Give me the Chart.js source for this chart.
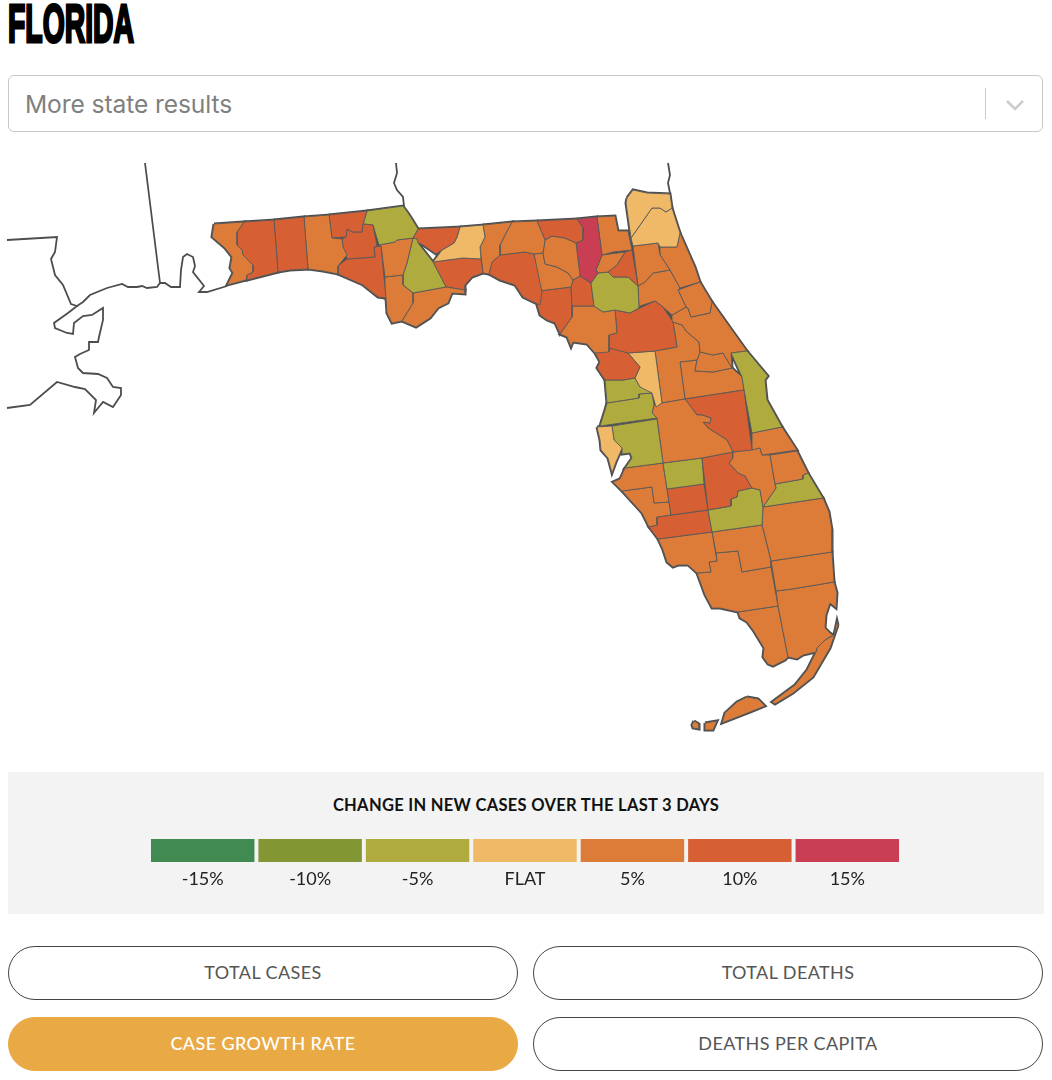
<!DOCTYPE html>
<html>
<head>
<meta charset="utf-8">
<title>Florida</title>
<script src="https://cdn.jsdelivr.net/npm/chart.js@4"></script>
<style>
html,body{margin:0;padding:0;background:#fff;}
body{position:relative;width:1052px;height:1080px;overflow:hidden;font-family:Lato,sans-serif;}
.abs{position:absolute;box-sizing:border-box;}
#title{left:8px;top:-6px;font-family:"Liberation Sans",sans-serif;font-weight:700;font-size:53px;line-height:60px;color:#000;-webkit-text-stroke:3px #000;transform-origin:left top;transform:scaleX(.535);white-space:nowrap;}
#picker{left:8px;top:75px;width:1035px;height:57px;border:1px solid #c8c8c8;border-radius:6px;}
#picker span{position:absolute;left:16px;top:13px;font:24.6px/30px Inter,"Noto Sans",sans-serif;color:#808080;letter-spacing:-.1px;}
#picker i{position:absolute;left:976px;top:12px;width:1px;height:31px;background:#ccc;}
#picker svg{position:absolute;left:996px;top:23px;}
#key{left:8px;top:772px;width:1036px;height:142px;background:#f3f3f3;}
#key b{position:absolute;left:0;right:0;top:24px;text-align:center;font:700 16.5px/18px Lato,sans-serif;letter-spacing:.3px;color:#111;}
#keyCanvas{left:149px;top:839px;}
#mapCanvas{left:0;top:150px;}
.btn{width:510px;height:54px;border:1px solid #444;border-radius:27px;text-align:center;font:18px/51px Lato,sans-serif;color:#555;letter-spacing:.4px;background:#fff;}
.btn.on{background:#e9a945;border-color:#e9a945;color:#fff;font-weight:500;}
</style>
</head>
<body>
<div class="abs" id="title">FLORIDA</div>
<div class="abs" id="picker"><span>More state results</span><i></i>
<svg width="20" height="12"><path d="M2 2 L10 10 L18 2" fill="none" stroke="#ccc" stroke-width="2.6"/></svg></div>
<canvas class="abs" id="mapCanvas" width="1052" height="620"></canvas>
<div class="abs" id="key"><b>CHANGE IN NEW CASES OVER THE LAST 3 DAYS</b></div>
<canvas class="abs" id="keyCanvas" width="752" height="46"></canvas>
<div class="abs btn" style="left:8px;top:946px">TOTAL CASES</div>
<div class="abs btn" style="left:533px;top:946px">TOTAL DEATHS</div>
<div class="abs btn on" style="left:8px;top:1017px">CASE GROWTH RATE</div>
<div class="abs btn" style="left:533px;top:1017px">DEATHS PER CAPITA</div>
<script>
// legend
const keyLabels=['-15%','-10%','-5%','FLAT','5%','10%','15%'];
const keyBands=[-15,-10,-5,0,5,10,15];
const keyColors=['#418a52','#829733','#b0ab3e','#f0b967','#dd7c38','#d65f33','#c93e53'];

// counties
const countyNames=['Escambia','Santa Rosa','Okaloosa','Walton','Holmes','Washington','Bay','Jackson','Calhoun','Gulf','Liberty','Franklin','Gadsden','Leon','Wakulla','Jefferson','Madison','Taylor','Hamilton','Suwannee','Lafayette','Columbia','Baker','Union','Bradford','Alachua','Gilchrist','Dixie','Levy','Marion','Citrus','Sumter','Hernando','Pasco','Pinellas','Hillsborough','Polk','Osceola','Brevard','Indian River','St. Lucie','Okeechobee','Martin','Highlands','Hardee','DeSoto','Glades','Manatee','Sarasota','Charlotte','Lee','Hendry','Collier','Palm Beach','Broward','Miami-Dade','Monroe','Upper Keys','Middle Keys','Lower Keys','Key West','Nassau','Duval','Clay','St. Johns','Putnam','Flagler','Volusia','Lake','Seminole','Orange'];
const countyBand=[5,10,10,5,10,10,10,-5,5,5,-5,5,10,0,10,5,5,10,10,5,5,15,5,5,10,-5,10,10,5,10,10,0,-5,-5,0,-5,5,10,-5,5,5,5,-5,10,-5,10,-5,5,5,10,5,5,5,5,5,5,5,5,5,5,5,0,0,5,5,5,5,5,5,5,5];
// map units, x then y in turn
const countyShapes=[
[214,224,244,222,237,232,237,245,242,250,243,255,253,265,253,272,247,275,246,280,227,285,233,273,230,268,232,257,225,248,212,237],
[244,222,274,220,278,272,247,280,247,275,253,272,253,265,243,255,242,250,237,245,237,232],
[274,220,304,217,308,269,290,270,278,272],
[304,217,329,215,332,238,342,239,343,247,347,255,338,266,338,274,323,271,308,269],
[329,215,367,211,363,224,362,232,353,232,347,229,346,237,332,238],
[347,229,353,232,362,232,363,224,373,225,377,246,374,247,375,257,347,259,343,247,342,239,346,237],
[347,259,375,257,374,247,381,246,386,298,378,297,363,285,338,274,338,266],
[367,211,403,206,408,213,412,219,418,229,413,238,397,240,395,242,379,245,373,225,363,224],
[379,245,395,242,397,240,413,238,407,263,403,275,385,277,381,246],
[385,277,403,275,403,285,413,293,413,303,408,311,402,321,392,323,387,313,386,298],
[413,238,417,239,418,243,433,262,446,287,413,293,403,285,403,275,407,263],
[413,293,446,287,465,290,465,294,452,293,448,303,438,308,430,318,416,327,402,321,408,311,413,303],
[418,229,460,227,457,237,454,243,442,250,436,254,423,245,418,243,417,239,413,238],
[460,227,483,225,485,237,480,247,481,259,463,258,433,262,442,250,454,243,457,237],
[433,262,463,258,481,259,483,273,472,277,465,285,465,290,446,287],
[483,225,512,222,505,235,500,245,500,255,492,262,489,274,483,273,480,247,485,237],
[512,222,537,221,545,240,543,253,534,254,525,252,500,255,500,245,505,235],
[500,255,525,252,534,254,542,292,540,305,533,302,523,297,515,285,500,280,489,274,492,262],
[537,221,577,219,583,228,583,240,576,243,565,238,552,236,545,240],
[552,236,565,238,576,243,580,276,573,280,568,273,557,267,545,264,543,253,545,240],
[534,254,543,253,545,264,557,267,568,273,573,280,571,287,539,291],
[577,219,597,217,602,255,596,270,598,273,591,283,580,276,576,243,583,240,583,228],
[597,217,615,216,618,231,628,231,632,250,613,252,602,255],
[602,255,625,252,617,265,608,272,598,273,596,270],
[625,252,632,250,638,286,628,277,613,277,608,272,617,265],
[598,273,608,272,613,277,628,277,638,286,639,308,630,313,615,310,603,312,594,306,591,283],
[573,280,580,276,591,283,594,306,572,306,571,287],
[539,291,571,287,572,306,572,317,560,334,555,323,547,320,540,315,537,305,542,292],
[572,306,594,306,603,312,615,310,617,333,609,335,609,352,595,353,587,344,573,342,571,347,567,337,560,334,572,317],
[615,310,630,313,640,308,655,301,663,307,673,322,677,347,655,351,628,353,609,348,609,335,617,333],
[595,353,613,348,628,353,640,367,635,378,623,380,605,380,597,368,600,362],
[628,353,655,351,662,403,656,407,652,393,640,387,635,378,640,367],
[605,380,623,380,635,378,640,387,652,388,652,393,639,394,639,398,607,403],
[607,403,639,398,639,394,652,393,654,405,652,413,657,418,600,426,605,410],
[597,427,612,426,614,440,622,448,620,453,616,462,612,473,608,458,601,450,600,440],
[612,426,657,419,663,463,625,468,632,458,630,453,622,454,622,448,614,440],
[652,413,654,405,662,403,685,399,697,415,702,415,711,418,710,423,703,422,708,428,727,440,733,452,702,458,663,463,657,418],
[685,399,744,390,752,450,733,452,727,440,708,428,703,422,710,423,711,418,702,415,697,415],
[731,353,747,351,768,376,765,380,767,400,782,427,752,433,744,390,742,377],
[752,433,782,427,797,450,770,454,762,455,760,448,752,450],
[770,455,797,451,808,473,803,475,803,479,775,484],
[733,452,760,448,762,455,770,455,775,484,776,488,763,507,760,490,752,488,745,476,738,473,729,463,733,458],
[775,484,803,479,803,475,808,473,823,498,763,507,776,488],
[702,458,733,452,733,458,729,463,738,473,745,476,752,488,738,491,737,497,731,499,731,506,708,510],
[663,463,702,458,704,484,667,489],
[667,489,704,484,708,510,671,515],
[708,510,731,506,731,499,737,497,738,491,752,488,760,490,763,507,762,525,712,532],
[625,468,663,463,667,489,669,502,654,503,652,487,622,491,613,482,620,479],
[622,491,652,487,654,503,669,502,671,515,657,517,657,525,649,527,642,513],
[657,517,708,510,712,532,658,539,649,527,657,525],
[658,539,712,532,717,561,709,562,711,572,697,573,688,565,678,565,673,567,667,562,663,550],
[712,532,762,525,771,561,771,567,742,572,738,551,716,553],
[716,553,738,551,742,572,771,567,778,606,738,612,720,608,712,608,705,595,697,573,711,572,709,562,717,561],
[763,507,823,498,829,512,832,530,832,552,771,561,762,525],
[771,561,832,552,834,582,792,589,776,591],
[776,591,792,589,834,582,837,593,836,608,830,603,826,615,825,628,830,633,833,635,825,640,817,648,816,652,803,655,797,659,788,657,778,606],
[738,612,778,606,788,657,785,660,773,666,768,664,763,657,764,648,753,630,747,622,740,618],
[838,625,837,621,834,635,825,640,817,648,816,652,807,670,795,685,772,702,775,704,793,693,813,677,830,648],
[747,697,758,699,765,706,750,712,722,723,725,713,737,702],
[705,723,717,721,713,730,705,730],
[694,721,699,724,699,729,693,728,692,725],
[627,198,633,190,647,193,670,194,672,208,666,212,660,208,652,208,631,238,628,217,626,203],
[652,208,660,208,666,212,672,208,680,233,677,247,660,247,658,243,633,246,631,238],
[633,246,658,243,660,255,670,270,653,273,645,282,638,286],
[660,247,677,247,680,233,695,267,700,282,680,288,670,270,660,255],
[638,286,645,282,653,273,670,270,680,288,678,290,686,307,672,315,663,307,655,301,640,306,639,308],
[678,290,700,282,712,302,710,313,691,317,688,308,686,307],
[672,315,686,307,688,308,691,317,710,313,712,302,747,351,731,353,732,368,723,353,713,355,700,352,699,342,687,332,682,325,673,322],
[673,322,682,325,687,332,699,342,700,352,697,360,680,362,685,399,662,403,655,351,677,347],
[700,352,713,355,723,353,732,368,713,372,695,371,697,360],
[680,362,697,360,695,371,713,372,732,368,742,377,744,390,685,399]
];
// state lines and coast outside Florida
const outsideLines=[
[145,163,160,283],
[7,240,57,237,55,252,51,259,55,275,63,285,71,304,77,306,68,313,54,323,55,328,67,333,73,334,74,323,83,316,92,315,103,308,103,320,99,337,98,342,89,342,89,350,80,354,75,357,78,368,83,373,98,374,107,378,113,387,121,388,121,395,113,407,103,402,94,413,96,400,85,389,75,387,57,382,30,405,7,408],
[77,306,83,302,90,295,107,288,122,284,128,287,137,287,142,286,147,288,157,287,160,283,165,283,171,287,180,287,181,270,183,257,187,254,193,257,195,266,193,272,204,286,199,292,207,292,227,286],
[396,163,397,173,394,183,397,190,403,197,404,206],
[668,163,670,175,668,183,670,193]
];

function toPoints(flat,close){
  const pts=[];
  for(let i=0;i<flat.length;i+=2) pts.push({x:flat[i],y:flat[i+1]});
  if(close) pts.push({x:flat[0],y:flat[1]});
  return pts;
}
const bandColor=b=>keyColors[keyBands.indexOf(b)];

const mapSets=[];
countyShapes.forEach((s,i)=>{
  // thick under-stroke only survives along the outer edge, gives the heavier coastline
  mapSets.push({label:countyNames[i]+' edge',data:toPoints(s,true),showLine:true,fill:false,borderColor:'#4d4d4d',borderWidth:3,pointRadius:0,order:3});
  mapSets.push({label:countyNames[i],data:toPoints(s,true),showLine:true,fill:'shape',backgroundColor:bandColor(countyBand[i]),borderColor:'#5a5a5a',borderWidth:.9,pointRadius:0,order:2});
});
outsideLines.forEach((l,i)=>{
  mapSets.push({label:'outside '+i,data:toPoints(l,false),showLine:true,fill:false,borderColor:'#4d4d4d',borderWidth:1.8,pointRadius:0,order:4});
});

new Chart(document.getElementById('mapCanvas'),{
  type:'scatter',
  data:{datasets:mapSets},
  options:{responsive:false,animation:false,layout:{padding:0},
    plugins:{legend:{display:false},tooltip:{enabled:false}},
    events:[],
    scales:{x:{type:'linear',display:false,min:0,max:1052},y:{type:'linear',display:false,min:150,max:770,reverse:true}}}
});

new Chart(document.getElementById('keyCanvas'),{
  type:'bar',
  data:{labels:keyLabels,datasets:[{data:keyLabels.map(()=>1),backgroundColor:keyColors,borderWidth:0,barPercentage:1,categoryPercentage:.963}]},
  options:{responsive:false,animation:false,layout:{padding:0},
    plugins:{legend:{display:false},tooltip:{enabled:false}},
    events:[],
    scales:{
      x:{grid:{display:false,drawTicks:false},border:{display:false},ticks:{color:'#222',font:{family:'Lato',size:18},padding:6,maxRotation:0,autoSkip:false}},
      y:{display:false,min:0,max:1}
    }}
});
</script>
</body>
</html>
